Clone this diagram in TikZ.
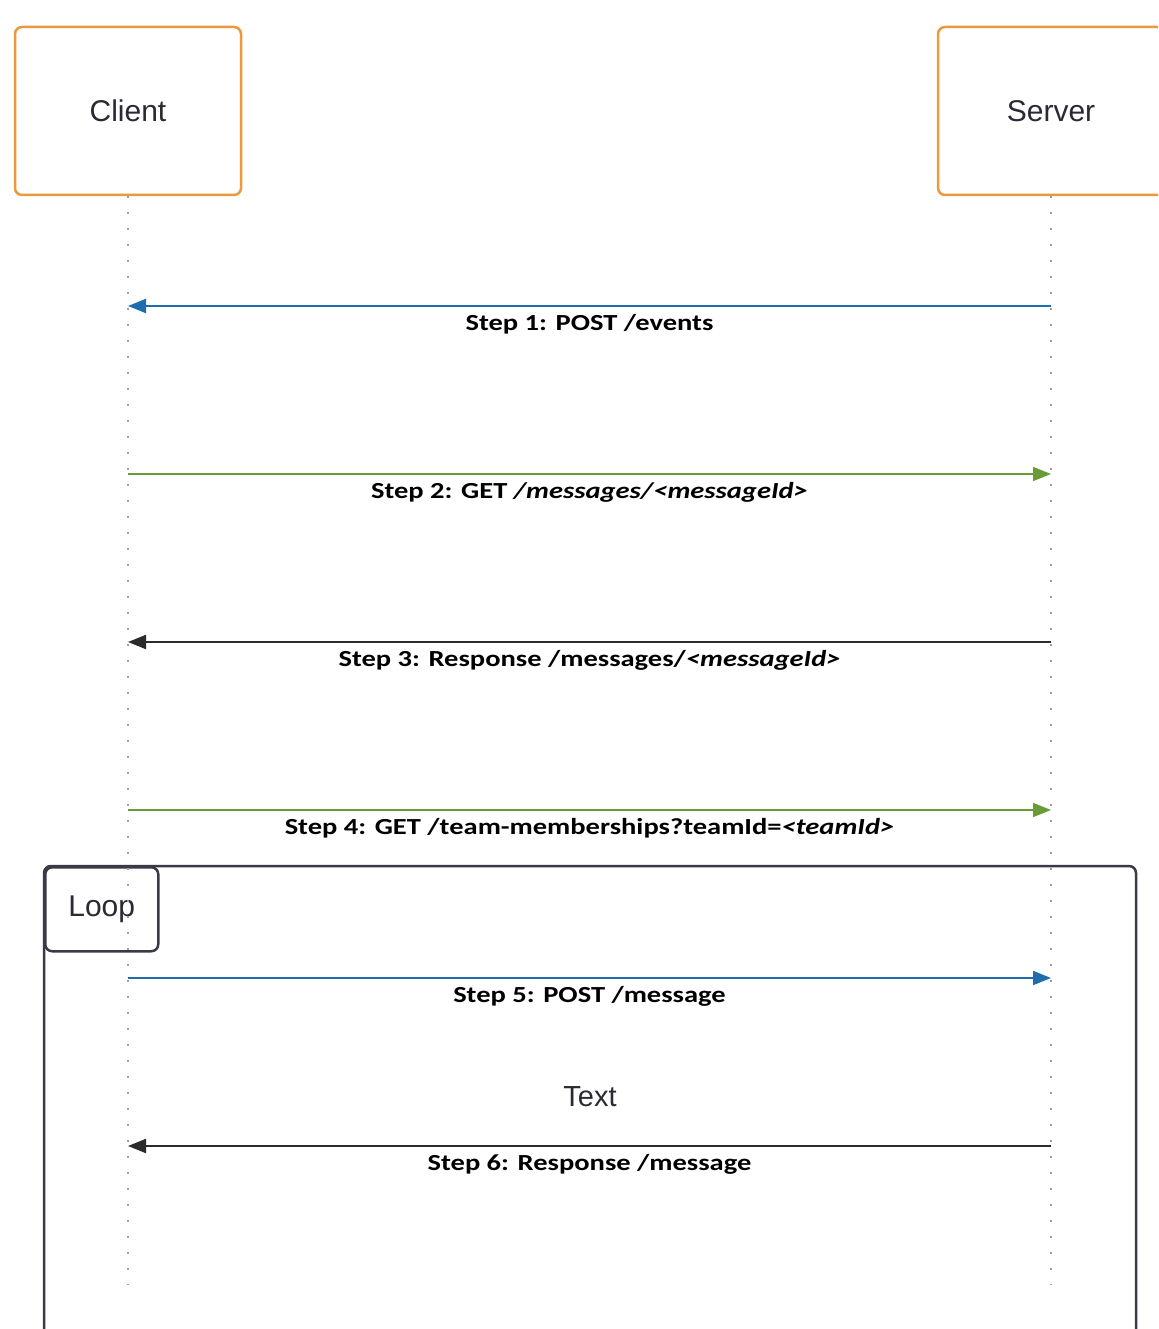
\documentclass[tikz,border=0pt]{standalone}
\usepackage{fontspec}
\setmainfont{Liberation Sans}
\newfontfamily\lblfont[FakeStretch=1.24]{Carlito}
\usetikzlibrary{arrows.meta}
\definecolor{actorline}{HTML}{E89A3C}
\definecolor{lifecol}{HTML}{9A9AB8}
\definecolor{msgblue}{HTML}{1F6DAE}
\definecolor{msggreen}{HTML}{6B9B37}
\definecolor{msgblack}{HTML}{2B2B2B}
\definecolor{framecol}{HTML}{3A3A46}
\definecolor{textcol}{HTML}{2A2A35}
\tikzset{
  actor/.style={draw=actorline, line width=2.5pt, rounded corners=7pt, fill=white,
    minimum width=226pt, minimum height=168pt, inner sep=0pt,
    font=\fontsize{30}{34}\selectfont, text=textcol},
  lifeline/.style={draw=lifecol, line width=1.3pt, dash pattern=on 2pt off 14pt},
  msgarrow/.style={line width=2pt, -{Triangle[length=18pt,width=14pt]}},
  bluemsg/.style={msgarrow, draw=msgblue, fill=msgblue},
  greenmsg/.style={msgarrow, draw=msggreen, fill=msggreen, line width=1.6pt},
  blackmsg/.style={msgarrow, draw=msgblack, fill=msgblack},
  msglabel/.style={font=\lblfont\bfseries\fontsize{23}{26}\selectfont, text=black, inner sep=0pt},
  framebox/.style={draw=framecol, line width=2.5pt, rounded corners=7pt},
  looptab/.style={draw=framecol, line width=2.5pt, rounded corners=7pt, fill=white,
    minimum width=113pt, minimum height=84pt, inner sep=0pt,
    font=\fontsize{30}{34}\selectfont, text=textcol},
  plaintext/.style={font=\fontsize{29}{33}\selectfont, text=textcol, inner sep=0pt}
}
\begin{document}
\begin{tikzpicture}[x=1pt,y=-1pt]
\useasboundingbox (0,0) rectangle (1158,1329);
\clip (0,0) rectangle (1158,1329);
% actors
\node[actor] (client) at (128,111) {Client};
\node[actor] (server) at (1051,111) {Server};
% lifeline ends
\coordinate (cend) at (128,1285);
\coordinate (send) at (1051,1285);
% loop frame
\draw[framebox] (44,866) rectangle (1136,1360);
\node[looptab, anchor=north west] (loop) at (44,866) {Loop};
% lifelines
\draw[lifeline] (client.south) -- (cend);
\draw[lifeline] (server.south) -- (send);
% message points
\foreach \i/\y in {1/306,2/474,3/642,4/810,5/978,6/1146}{
  \coordinate (c\i) at (128,\y);
  \coordinate (s\i) at (1051,\y);
}
\draw[bluemsg] (s1) -- (c1) node[msglabel, midway, yshift=-18pt] (l1) {Step 1: POST /events};
\draw[greenmsg] (c2) -- (s2) node[msglabel, midway, yshift=-18pt] (l2) {Step 2: GET \itshape /messages/<messageId>};
\draw[blackmsg] (s3) -- (c3) node[msglabel, midway, yshift=-18pt] (l3) {Step 3: Response /messages/\textit{<messageId>}};
\draw[greenmsg] (c4) -- (s4) node[msglabel, midway, yshift=-18pt] (l4) {Step 4: GET /team-memberships?teamId=\textit{<teamId>}};
\draw[bluemsg] (c5) -- (s5) node[msglabel, midway, yshift=-18pt] (l5) {Step 5: POST /message};
\node[plaintext] (txt) at (590,1097) {Text};
\draw[blackmsg] (s6) -- (c6) node[msglabel, midway, yshift=-18pt] (l6) {Step 6: Response /message};
\end{tikzpicture}
\end{document}
